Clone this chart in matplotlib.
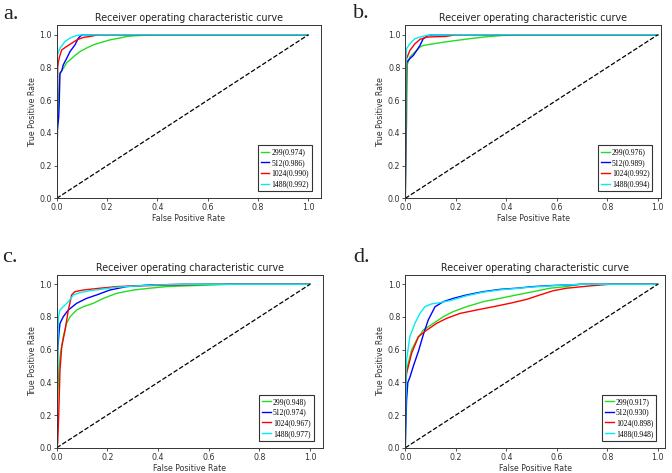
import matplotlib
matplotlib.use("Agg")
import matplotlib.pyplot as plt

# legend order: green, blue, red, cyan
sizes = ["299", "512", "1024", "1488"]
colors = ["#22dd22", "#0000ff", "#ff0000", "#00eeee"]
panel_labels = ["a.", "b.", "c.", "d."]

auc_a = [0.974, 0.986, 0.990, 0.992]
auc_b = [0.976, 0.989, 0.992, 0.994]
auc_c = [0.948, 0.974, 0.967, 0.977]
auc_d = [0.917, 0.930, 0.898, 0.948]

# panel a (fpr, tpr)
a_299_fpr = [0, 0.003, 0.008, 0.012, 0.02, 0.027, 0.04, 0.053, 0.07, 0.093, 0.12, 0.146, 0.18, 0.212, 0.25, 0.278, 0.31, 0.344, 0.39, 1.0]
a_299_tpr = [0, 0.45, 0.65, 0.76, 0.78, 0.796, 0.83, 0.847, 0.87, 0.898, 0.92, 0.939, 0.955, 0.969, 0.98, 0.99, 0.994, 0.997, 1.0, 1.0]
a_512_fpr = [0, 0.003, 0.008, 0.01, 0.013, 0.02, 0.026, 0.04, 0.053, 0.073, 0.086, 0.1, 0.23, 1.0]
a_512_tpr = [0, 0.42, 0.5, 0.58, 0.765, 0.78, 0.816, 0.857, 0.898, 0.939, 0.98, 1.0, 1.0, 1.0]
a_1024_fpr = [0, 0.002, 0.004, 0.007, 0.012, 0.02, 0.04, 0.06, 0.08, 0.106, 0.132, 0.166, 0.2, 1.0]
a_1024_tpr = [0, 0.5, 0.8, 0.837, 0.87, 0.908, 0.929, 0.949, 0.969, 0.984, 0.99, 1.0, 1.0, 1.0]
a_1488_fpr = [0, 0.002, 0.003, 0.013, 0.033, 0.053, 0.08, 0.1, 1.0]
a_1488_tpr = [0, 0.6, 0.878, 0.918, 0.959, 0.98, 0.996, 1.0, 1.0]

# panel b
b_299_fpr = [0, 0.002, 0.005, 0.008, 0.018, 0.038, 0.058, 0.071, 0.111, 0.161, 0.2, 0.254, 0.32, 0.386, 0.49, 1.0]
b_299_tpr = [0, 0.3, 0.45, 0.82, 0.864, 0.894, 0.925, 0.935, 0.945, 0.957, 0.965, 0.976, 0.988, 0.996, 1.0, 1.0]
b_512_fpr = [0, 0.003, 0.005, 0.018, 0.032, 0.045, 0.058, 0.071, 0.091, 0.111, 1.0]
b_512_tpr = [0, 0.45, 0.83, 0.854, 0.874, 0.904, 0.935, 0.976, 0.996, 1.0, 1.0]
b_1024_fpr = [0, 0.003, 0.005, 0.018, 0.038, 0.058, 0.085, 0.111, 0.16, 0.2, 1.0]
b_1024_tpr = [0, 0.7, 0.854, 0.904, 0.945, 0.972, 0.986, 0.988, 0.99, 1.0, 1.0]
b_1488_fpr = [0, 0.002, 0.005, 0.018, 0.038, 0.058, 0.085, 0.11, 1.0]
b_1488_tpr = [0, 0.8, 0.915, 0.945, 0.976, 0.986, 0.996, 1.0, 1.0]

# panel c
c_299_fpr = [0, 0.005, 0.01, 0.015, 0.026, 0.039, 0.053, 0.079, 0.105, 0.145, 0.184, 0.237, 0.303, 0.368, 0.434, 0.5, 0.6, 0.69, 1.0]
c_299_tpr = [0, 0.35, 0.5, 0.58, 0.68, 0.761, 0.802, 0.843, 0.863, 0.884, 0.914, 0.945, 0.965, 0.976, 0.986, 0.99, 0.995, 1.0, 1.0]
c_512_fpr = [0, 0.004, 0.01, 0.013, 0.026, 0.046, 0.079, 0.118, 0.158, 0.21, 0.276, 0.368, 0.5, 1.0]
c_512_tpr = [0, 0.6, 0.72, 0.761, 0.802, 0.843, 0.884, 0.914, 0.935, 0.965, 0.986, 0.996, 1.0, 1.0]
c_1024_fpr = [0, 0.004, 0.008, 0.013, 0.02, 0.033, 0.046, 0.059, 0.072, 0.105, 0.171, 0.237, 0.303, 0.4, 0.5, 0.6, 1.0]
c_1024_tpr = [0, 0.03, 0.2, 0.476, 0.619, 0.72, 0.843, 0.935, 0.955, 0.965, 0.976, 0.986, 0.99, 0.993, 0.996, 1.0, 1.0]
c_1488_fpr = [0, 0.003, 0.007, 0.013, 0.026, 0.046, 0.066, 0.092, 0.132, 0.184, 0.237, 0.316, 0.395, 0.5, 1.0]
c_1488_tpr = [0, 0.55, 0.802, 0.843, 0.863, 0.894, 0.935, 0.949, 0.961, 0.971, 0.982, 0.99, 0.996, 1.0, 1.0]

# panel d
d_299_fpr = [0, 0.0, 0.003, 0.005, 0.025, 0.045, 0.071, 0.111, 0.151, 0.19, 0.243, 0.309, 0.375, 0.441, 0.507, 0.573, 0.639, 0.69, 1.0]
d_299_tpr = [0, 0.12, 0.35, 0.476, 0.598, 0.659, 0.72, 0.761, 0.802, 0.833, 0.863, 0.894, 0.914, 0.935, 0.955, 0.976, 0.986, 1.0, 1.0]
d_512_fpr = [0, 0.005, 0.01, 0.018, 0.032, 0.052, 0.071, 0.091, 0.118, 0.151, 0.19, 0.243, 0.309, 0.375, 0.441, 0.507, 0.573, 0.639, 0.705, 1.0]
d_512_tpr = [0, 0.29, 0.4, 0.43, 0.5, 0.59, 0.69, 0.782, 0.863, 0.894, 0.914, 0.935, 0.955, 0.969, 0.976, 0.986, 0.992, 0.996, 1.0, 1.0]
d_1024_fpr = [0, 0.0, 0.005, 0.025, 0.052, 0.085, 0.124, 0.164, 0.217, 0.283, 0.349, 0.415, 0.481, 0.534, 0.587, 0.639, 0.705, 0.745, 0.81, 1.0]
d_1024_tpr = [0, 0.38, 0.455, 0.578, 0.68, 0.72, 0.761, 0.792, 0.822, 0.843, 0.863, 0.884, 0.908, 0.935, 0.961, 0.976, 0.986, 0.992, 1.0, 1.0]
d_1488_fpr = [0, 0.003, 0.005, 0.018, 0.038, 0.058, 0.078, 0.104, 0.137, 0.177, 0.243, 0.309, 0.375, 0.5, 0.6, 0.7, 1.0]
d_1488_tpr = [0, 0.45, 0.537, 0.68, 0.761, 0.822, 0.863, 0.88, 0.888, 0.9, 0.93, 0.952, 0.966, 0.983, 0.993, 1.0, 1.0]

panels = [
    ([a_299_fpr, a_512_fpr, a_1024_fpr, a_1488_fpr], [a_299_tpr, a_512_tpr, a_1024_tpr, a_1488_tpr], auc_a),
    ([b_299_fpr, b_512_fpr, b_1024_fpr, b_1488_fpr], [b_299_tpr, b_512_tpr, b_1024_tpr, b_1488_tpr], auc_b),
    ([c_299_fpr, c_512_fpr, c_1024_fpr, c_1488_fpr], [c_299_tpr, c_512_tpr, c_1024_tpr, c_1488_tpr], auc_c),
    ([d_299_fpr, d_512_fpr, d_1024_fpr, d_1488_fpr], [d_299_tpr, d_512_tpr, d_1024_tpr, d_1488_tpr], auc_d),
]

W, H = 672, 473
fig = plt.figure(figsize=(W / 100, H / 100), dpi=100)

# axes boxes in pixels: left, top, unit width, x max, y unit, y max
boxes = [
    (56.7, 25, 251.6, 1.05, 163.5, 1.06),
    (405.3, 25, 252.4, 1.015, 163.5, 1.06),
    (56.7, 275.3, 253.3, 1.05, 163.5, 1.055),
    (405.3, 275.3, 252.4, 1.03, 163.5, 1.055),
]
label_pos = [(3, 5), (353, 4), (2, 248), (353, 248)]

for i, (fprs, tprs, aucs) in enumerate(panels):
    left, top, ux, xmax, uy, ymax = boxes[i]
    wpx, hpx = ux * xmax, uy * ymax
    ax = fig.add_axes([left / W, 1 - (top + hpx) / H, wpx / W, hpx / H])
    for fpr, tpr, s, a, c in zip(fprs, tprs, sizes, aucs, colors):
        ax.plot(fpr, tpr, color=c, lw=1.0, label="%s(%.3f)" % (s, a))
    ax.plot([0, 1], [0, 1], "k--", lw=0.9)
    ax.set_xlim(0, xmax)
    ax.set_ylim(0, ymax)
    ax.set_xticks([0, 0.2, 0.4, 0.6, 0.8, 1.0])
    ax.set_yticks([0, 0.2, 0.4, 0.6, 0.8, 1.0])
    ax.tick_params(labelsize=5.7, length=2, width=0.6, pad=1.5, colors="#333333")
    for sp in ax.spines.values():
        sp.set_linewidth(0.7)
        sp.set_color("#333333")
    ax.set_title("Receiver operating characteristic curve", fontsize=6.85, pad=3, color="#222222")
    ax.set_xlabel("False Positive Rate", fontsize=5.7, labelpad=1.5, color="#333333")
    ax.set_ylabel("True Positive Rate", fontsize=5.7, labelpad=2, color="#333333")
    leg = ax.legend(loc="lower right", bbox_to_anchor=(1 - 9 / wpx, 7 / hpx), borderaxespad=0,
                    prop={"family": "Liberation Serif", "size": 5.5}, handlelength=1.1,
                    handletextpad=0.3, borderpad=0.4, labelspacing=0.35,
                    fancybox=False, framealpha=1)
    leg.get_frame().set_edgecolor("#333333")
    leg.get_frame().set_linewidth(0.8)
    lx, ly = label_pos[i]
    fig.text(lx / W, 1 - ly / H, panel_labels[i], fontsize=16, family="Liberation Serif",
             va="top", ha="left", color="#222222")

fig.savefig("out.png", dpi=100)
